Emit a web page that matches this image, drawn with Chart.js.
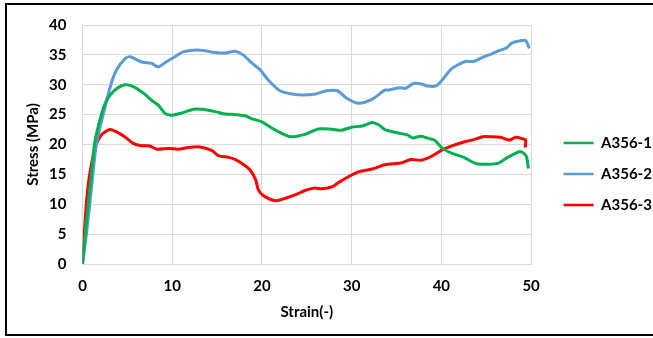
<!DOCTYPE html>
<html lang="en">

<head>
    <meta charset="UTF-8">
    <title>A356 Stress-Strain</title>
    <style>
        html, body { margin: 0; padding: 0; background: #fff; overflow: hidden; }
        #wrap { position: relative; width: 653px; height: 338px; }
        #frame { position: absolute; left: 5px; top: 3px; width: 700px; height: 329px; border: 2px solid #000; pointer-events: none; }
        canvas { position: absolute; left: 0; top: 0; }
    </style>
</head>

<body>
    <div id="wrap">
        <canvas id="myChart01" width="653" height="338"></canvas>
        <div id="frame"></div>
    </div>
    <script src="https://cdn.jsdelivr.net/npm/chart.js"></script>
    <script>
        // 資料: 應變 (x) 與 應力 (y)
        var seriesNames = ['A356-1', 'A356-2', 'A356-3'];
        var seriesColors = ['#00B050', '#5B9BD5', '#FF0000'];

        var strainA1 = [0, 0.3, 0.65, 1.0, 1.35, 2.1, 2.7, 3.6, 4.7, 5.65, 6.8, 7.7, 8.45, 9.2, 9.9, 11.1, 12.4, 13.3, 14.8, 15.9, 16.6, 18.1, 18.9, 20.0, 21.5, 23.2, 24.8, 26.3, 27.8, 28.9, 30.0, 31.2, 32.3, 33.0, 33.7, 34.1, 35.3, 36.2, 36.8, 37.7, 38.4, 39.2, 40.1, 41.2, 42.5, 43.8, 44.8, 46.3, 47.4, 48.7, 49.2, 49.5, 49.7];
        var stressA1 = [0, 5, 10.2, 15, 20.2, 25, 27.4, 29.1, 30, 29.7, 28.6, 27.4, 26.6, 25.2, 24.9, 25.3, 25.9, 25.9, 25.5, 25.1, 25.05, 24.8, 24.3, 23.8, 22.4, 21.3, 21.7, 22.6, 22.55, 22.4, 22.9, 23.1, 23.7, 23.3, 22.5, 22.3, 21.9, 21.6, 21.1, 21.4, 21.1, 20.75, 19.4, 18.5, 17.85, 16.85, 16.7, 16.85, 17.85, 18.8, 18.5, 17.9, 16.0];

        var strainA2 = [0, 0.45, 0.82, 1.56, 2.3, 3.2, 3.8, 4.7, 5.3, 6.6, 7.7, 8.45, 9.4, 10.3, 11.2, 12.9, 14.8, 15.9, 17.0, 17.9, 18.9, 19.8, 20.7, 22.0, 23.4, 24.6, 26.0, 27.2, 28.4, 29.5, 30.8, 32.3, 33.7, 34.1, 35.3, 36.0, 36.9, 37.9, 38.4, 39.4, 40.1, 41.0, 41.8, 42.7, 43.6, 44.6, 45.5, 46.4, 47.2, 47.9, 49.0, 49.4, 49.8];
        var stressA2 = [0, 5.2, 10.2, 20.2, 25, 30.2, 32.5, 34.3, 34.7, 33.8, 33.6, 33.0, 33.9, 34.7, 35.5, 35.8, 35.4, 35.3, 35.6, 35.0, 33.6, 32.5, 30.8, 29.0, 28.45, 28.3, 28.45, 29.0, 29.0, 27.7, 26.9, 27.6, 29.1, 29.1, 29.5, 29.4, 30.2, 30.1, 29.8, 29.8, 30.8, 32.5, 33.3, 33.9, 33.9, 34.6, 35.1, 35.7, 36.1, 37.0, 37.4, 37.4, 36.1];

        var strainA3 = [0, 0.2, 0.45, 0.82, 1.45, 2.1, 3.05, 3.8, 4.7, 5.65, 6.6, 7.5, 8.3, 9.6, 10.7, 11.8, 13.1, 14.4, 15.2, 16.3, 17.0, 17.9, 18.7, 19.3, 19.6, 20.2, 21.5, 22.6, 23.9, 24.8, 25.8, 26.7, 27.8, 28.6, 30.0, 30.8, 32.3, 33.7, 35.6, 36.6, 37.7, 38.8, 40.1, 41.4, 42.7, 43.8, 44.6, 45.5, 46.6, 47.6, 48.3, 49.2, 49.4, 49.35];
        var stressA3 = [0, 5, 10.5, 15.2, 19.6, 21.6, 22.5, 22.1, 21.3, 20.2, 19.8, 19.75, 19.2, 19.35, 19.2, 19.5, 19.6, 19.0, 18.1, 17.85, 17.5, 16.7, 15.7, 14.1, 12.4, 11.4, 10.6, 11.0, 11.7, 12.3, 12.7, 12.6, 12.9, 13.7, 14.9, 15.45, 15.9, 16.6, 16.95, 17.5, 17.35, 17.95, 19.1, 19.9, 20.5, 20.9, 21.3, 21.3, 21.2, 20.75, 21.2, 20.9, 20.8, 19.5];

        // 軸刻度
        var xTicks = [0, 10, 20, 30, 40, 50];
        var yTicks = [0, 5, 10, 15, 20, 25, 30, 35, 40];

        function toPoints(xs, ys) {
            var pts = [];
            xs.forEach(function (x, i) {
                pts.push({ x: x, y: ys[i] });
            });
            return pts;
        }

        var allStrain = [strainA1, strainA2, strainA3];
        var allStress = [stressA1, stressA2, stressA3];

        var datasets = seriesNames.map(function (name, i) {
            return {
                label: name,
                data: toPoints(allStrain[i], allStress[i]),
                borderColor: seriesColors[i],
                backgroundColor: seriesColors[i],
                borderWidth: 3,
                pointRadius: 0,
                tension: 0.25,
                fill: false
            };
        });

        var font = { family: 'Lato', size: 15, weight: 'bold' };
        var gridColor = '#D9D9D9';

        var ctx01 = document.getElementById('myChart01');
        var chart01 = new Chart(ctx01, {
            type: 'line',
            data: { datasets: datasets },
            plugins: [{
                id: 'whiteBg',
                beforeDraw: function (chart) {
                    var c = chart.ctx;
                    c.save();
                    c.fillStyle = '#fff';
                    c.fillRect(0, 0, chart.width, chart.height);
                    c.restore();
                }
            }],
            options: {
                responsive: false,
                animation: false,
                layout: { padding: { left: 8, right: -2.5, top: 18, bottom: 8 } },
                plugins: {
                    tooltip: { enabled: false },
                    legend: {
                        position: 'right',
                        labels: {
                            font: font,
                            color: '#000',
                            boxWidth: 30,
                            boxHeight: 2.5,
                            padding: 16,
                            generateLabels: function (chart) {
                                var items = Chart.defaults.plugins.legend.labels.generateLabels(chart);
                                items.forEach(function (it) { it.lineWidth = 0; });
                                return items;
                            }
                        }
                    }
                },
                scales: {
                    x: {
                        type: 'linear',
                        min: 0,
                        max: 50,
                        afterBuildTicks: function (s) { s.ticks = xTicks.map(function (v) { return { value: v }; }); },
                        afterFit: function (s) { s.height = 66; },
                        grid: { color: gridColor, drawTicks: false },
                        border: { color: gridColor },
                        ticks: { font: font, color: '#000', padding: 13, maxRotation: 0 },
                        title: { display: true, text: 'Strain(-)', font: font, color: '#000', padding: { top: 0, bottom: 9 } }
                    },
                    y: {
                        min: 0,
                        max: 40,
                        afterBuildTicks: function (s) { s.ticks = yTicks.map(function (v) { return { value: v }; }); },
                        afterFit: function (s) { s.width = 74.5; },
                        grid: { color: gridColor, drawTicks: false },
                        border: { color: gridColor },
                        ticks: { font: font, color: '#000', padding: 16 },
                        title: { display: true, text: 'Stress (MPa)', font: font, color: '#000', padding: { top: 16, bottom: 0 } }
                    },
                    // 右側留白 (圖表與圖例之間)
                    gap: {
                        type: 'linear',
                        position: 'right',
                        display: true,
                        grid: { display: false },
                        border: { display: false },
                        ticks: { display: false },
                        afterFit: function (s) { s.width = 16.5; }
                    }
                }
            }
        });
    </script>
</body>

</html>
